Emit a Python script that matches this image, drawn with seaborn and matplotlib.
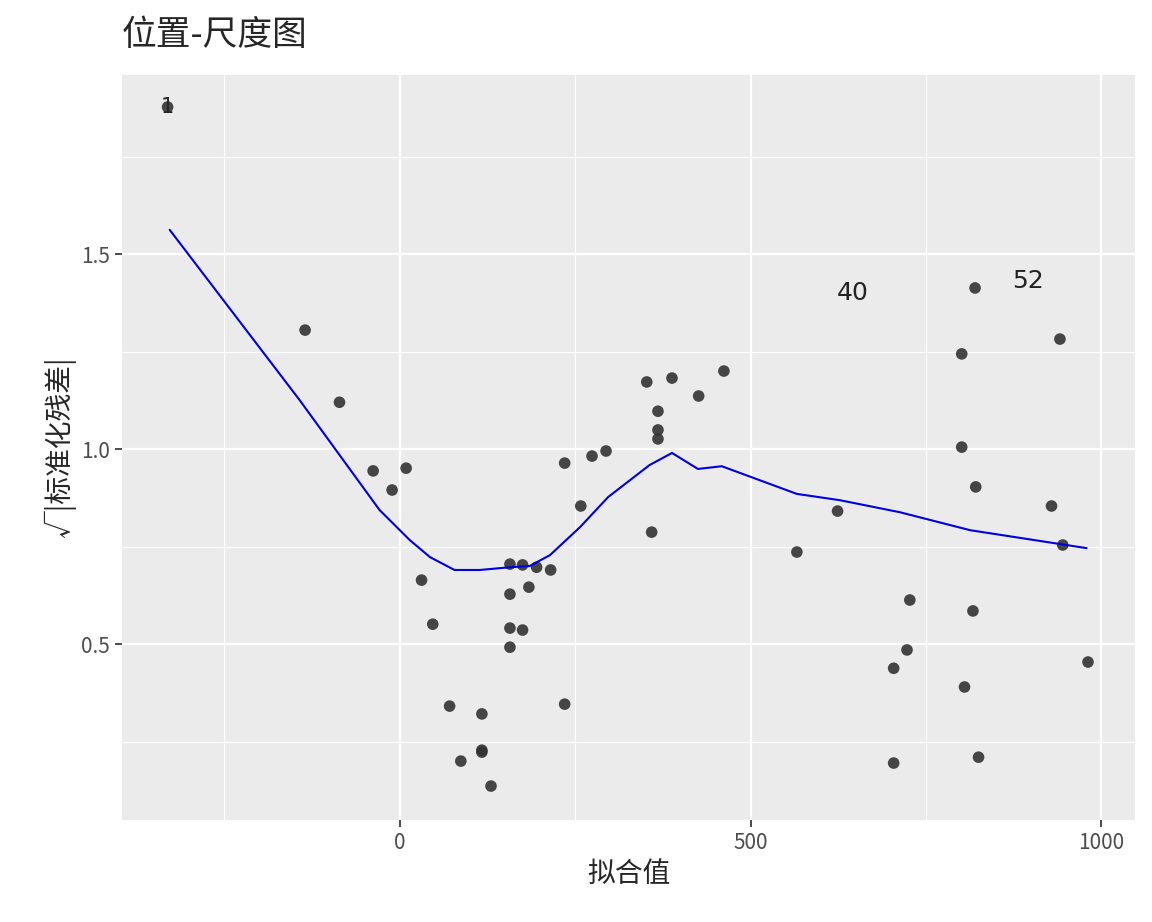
import matplotlib
matplotlib.use("Agg")
import matplotlib.pyplot as plt
import seaborn as sns
import pandas as pd

fitted = [-331,-135,-86,-38,-11,9,31,47,71,87,117,117,117,130,157,157,157,157,175,175,184,195,215,235,235,258,274,294,352,359,368,368,368,388,426,462,566,624,704,704,723,727,801,801,805,817,820,821,825,929,941,945,981]
sqrt_res = [1.877,1.305,1.12,0.944,0.895,0.951,0.664,0.551,0.341,0.2,0.321,0.228,0.223,0.136,0.705,0.628,0.541,0.492,0.703,0.536,0.646,0.697,0.69,0.964,0.346,0.854,0.982,0.995,1.172,0.787,1.097,1.049,1.026,1.182,1.136,1.2,0.736,0.841,0.438,0.195,0.485,0.613,1.244,1.005,0.39,0.585,1.413,0.903,0.21,0.854,1.282,0.754,0.454]
smooth_x = [-328,-143,-29,14,43,78,114,157,185,214,257,297,356,388,425,459,566,627,713,813,979]
smooth_y = [1.562,1.126,0.844,0.767,0.723,0.69,0.69,0.697,0.7,0.728,0.8,0.877,0.959,0.99,0.949,0.956,0.885,0.869,0.838,0.792,0.746]
labels = ["1","40","52"]
label_x = [-331,645,895]
label_y = [1.877,1.40,1.43]

sns.set_theme(style="darkgrid", rc={"axes.facecolor":"#EBEBEB","grid.color":"white"})
plt.rcParams['font.family'] = ['Noto Sans CJK SC','DejaVu Sans']

fig = plt.figure(figsize=(11.52,9.22), dpi=100)
ax = fig.add_axes([122/1152, 1-820/922, (1135-122)/1152, (820-75)/922])
df = pd.DataFrame({"x":fitted,"y":sqrt_res})
sns.scatterplot(data=df, x="x", y="y", ax=ax, color="#333333", s=70, edgecolor="none", alpha=0.9)
sns.lineplot(x=smooth_x, y=smooth_y, ax=ax, color="#0000DD", lw=1.5)
for t, lx, ly in zip(labels, label_x, label_y):
    if t == "1":
        ax.text(lx, ly, t, fontsize=15, ha="center", va="center", family=['DejaVu Sans'])
    else:
        ax.text(lx, ly, t, fontsize=18, ha="center", va="center", color="#222222", family=['DejaVu Sans'])
ax.set_xlim(-396,1048); ax.set_ylim(0.049,1.959)
ax.set_xticks([0,500,1000]); ax.set_yticks([0.5,1.0,1.5])
ax.set_xticks([-250,250,750], minor=True); ax.set_yticks([0.25,0.75,1.25,1.75], minor=True)
ax.grid(which="major", color="white", lw=1.6)
ax.grid(which="minor", color="white", lw=0.8)
ax.tick_params(which="major", length=5, color="#333333", labelsize=15, labelcolor="#4D4D4D", bottom=True, left=True)
ax.tick_params(which="minor", length=0)
ax.set_xlabel("拟合值", fontsize=20)
ax.set_ylabel("√|标准化残差|", fontsize=20)
for s in ax.spines.values(): s.set_visible(False)
fig.text(122/1152, 1-35/922, "位置-尺度图", fontsize=25, va="center", ha="left")
fig.savefig("out.png", dpi=100)
